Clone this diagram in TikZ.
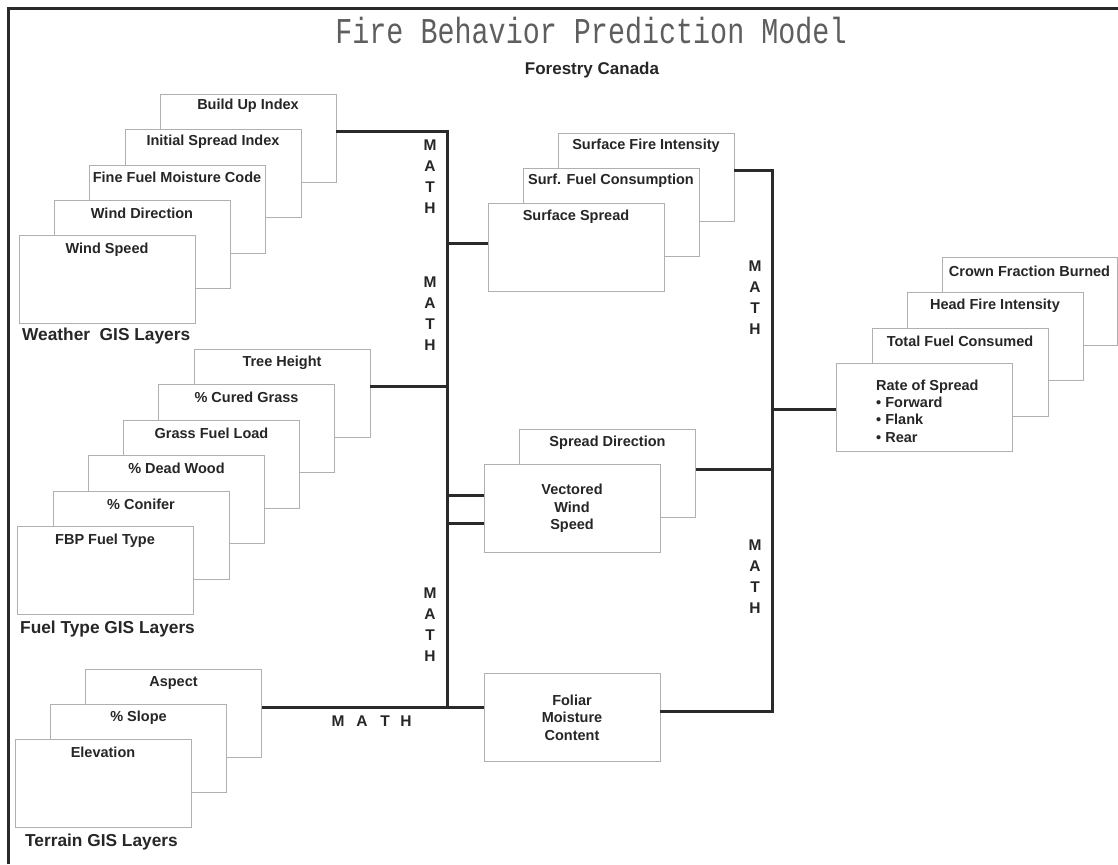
\documentclass[tikz,border=0pt]{standalone}
\usepackage{fontspec}
\usepackage{graphicx}
\setmainfont{Liberation Sans}
\newfontfamily\titlefont{Liberation Mono}
\definecolor{boxgray}{HTML}{B0B0B0}
\definecolor{txt}{HTML}{262626}
\definecolor{linec}{HTML}{2A2A2A}
\definecolor{titlec}{HTML}{5E5E5E}
\begin{document}
\begin{tikzpicture}[x=1pt,y=-1pt,
  box/.style={draw=boxgray, line width=0.9pt, fill=white, minimum width=176pt, minimum height=88pt, inner sep=0pt},
  lbl/.style={font=\bfseries\fontsize{14.5}{17.5}\selectfont, text=txt, inner sep=0pt},
  grp/.style={font=\bfseries\fontsize{17.3}{20}\selectfont, text=txt, anchor=west, inner sep=0pt},
  mathv/.style={font=\bfseries\fontsize{15.5}{21}\selectfont, text=txt, align=center, inner sep=0pt},
  mathh/.style={font=\bfseries\fontsize{15.5}{18}\selectfont, text=txt, inner sep=0pt},
  conn/.style={draw=linec, line width=3pt, line join=miter},
]
\useasboundingbox (0,0) rectangle (1118,864);
\clip (0,0) rectangle (1118,864);

% frame
\draw[draw=linec, line width=3pt, line join=miter] (8,864) -- (8,9) -- (1118,9);

% title
\node[text=titlec, inner sep=0pt] (title) at (591,31) {\scalebox{1}[1.28]{\titlefont\fontsize{28.4}{30}\selectfont Fire Behavior Prediction Model}};
\node[font=\bfseries\fontsize{17}{20}\selectfont, text=txt, inner sep=0pt] (sub) at (592,70) {Forestry Canada};

% weather stack (back to front)
\node[box] (bui) at (248,138) {};
\node[lbl] at ([yshift=-12pt]bui.north) {Build Up Index};
\node[box] (isi) at (213,173) {};
\node[lbl] at ([yshift=-13pt]isi.north) {Initial Spread Index};
\node[box] (ffmc) at (177,209) {};
\node[lbl] at ([yshift=-13pt]ffmc.north) {Fine Fuel Moisture Code};
\node[box] (wd) at (142,244) {};
\node[lbl] at ([yshift=-14pt]wd.north) {Wind Direction};
\node[box] (ws) at (107,279) {};
\node[lbl] at ([yshift=-15pt]ws.north) {Wind Speed};
\node[grp] (wlab) at (22,336) {Weather~~GIS Layers};

% fuel stack
\node[box] (tree) at (282,393) {};
\node[lbl] at ([yshift=-14pt]tree.north) {Tree Height};
\node[box] (cured) at (246.5,428) {};
\node[lbl] at ([yshift=-14pt]cured.north) {\% Cured Grass};
\node[box] (gfl) at (211.5,464) {};
\node[lbl] at ([yshift=-14pt]gfl.north) {Grass Fuel Load};
\node[box] (dead) at (176.5,499) {};
\node[lbl] at ([yshift=-14pt]dead.north) {\% Dead Wood};
\node[box] (conifer) at (141,535) {};
\node[lbl] at ([yshift=-14pt]conifer.north) {\% Conifer};
\node[box] (fbp) at (105,570) {};
\node[lbl] at ([yshift=-15pt]fbp.north) {FBP Fuel Type};
\node[grp] (flab) at (20,629) {Fuel Type GIS Layers};

% terrain stack
\node[box] (aspect) at (173.5,713) {};
\node[lbl] at ([yshift=-14pt]aspect.north) {Aspect};
\node[box] (slope) at (138.5,748) {};
\node[lbl] at ([yshift=-14pt]slope.north) {\% Slope};
\node[box] (elev) at (103,783) {};
\node[lbl] at ([yshift=-14pt]elev.north) {Elevation};
\node[grp] (tlab) at (25,842) {Terrain GIS Layers};

% middle: surface stack
\node[box] (sfi) at (646,177) {};
\node[lbl] at ([yshift=-13pt]sfi.north) {Surface Fire Intensity};
\node[box] (sfc) at (611,212) {};
\node[lbl] at ([yshift=-13pt]sfc.north) {Surf. Fuel Consumption};
\node[box] (ss) at (576,247) {};
\node[lbl] at ([yshift=-14pt]ss.north) {Surface Spread};

% middle: spread direction / vectored wind
\node[box] (sd) at (607.5,473) {};
\node[lbl] at ([yshift=-14pt]sd.north) {Spread Direction};
\node[box, align=center, font=\bfseries\fontsize{14.5}{17.5}\selectfont, text=txt] (vws) at (572,508.5) {Vectored\\Wind\\Speed};

% foliar
\node[box, align=center, font=\bfseries\fontsize{14.5}{17.5}\selectfont, text=txt] (fmc) at (572,717.5) {Foliar\\Moisture\\Content};

% right stack
\node[box, minimum width=175pt] (cfb) at (1029.5,301.5) {};
\node[lbl] at ([yshift=-14pt]cfb.north) {Crown Fraction Burned};
\node[box] (hfi) at (995,336) {};
\node[lbl] at ([yshift=-14pt]hfi.north) {Head Fire Intensity};
\node[box] (tfc) at (960,372) {};
\node[lbl] at ([yshift=-14pt]tfc.north) {Total Fuel Consumed};
\node[box] (ros) at (924.5,407.5) {};
\node[lbl, anchor=west, align=left, font=\bfseries\fontsize{14.5}{17.3}\selectfont] at (876,411) {Rate of Spread\\\textbullet\ Forward\\\textbullet\ Flank\\\textbullet\ Rear};

% helper coordinates
\coordinate (busLtop) at (447,131);
\coordinate (busLbot) at (447,707);
\coordinate (busRtop) at (772,170);
\coordinate (busRbot) at (772,711);
\coordinate (ySS) at (0,243);
\coordinate (yTree) at (0,386);
\coordinate (yV1) at (0,495);
\coordinate (yV2) at (0,523);
\coordinate (ySD) at (0,469);
\coordinate (yROS) at (0,409);

% connectors left
\draw[conn] (bui.east |- busLtop) -- (busLtop) -- (busLbot);
\draw[conn] (aspect.east |- busLbot) -- (fmc.west |- busLbot);
\draw[conn] (tree.east |- yTree) -- (busLtop |- yTree);
\draw[conn] (busLtop |- ySS) -- (ss.west |- ySS);
\draw[conn] (busLtop |- yV1) -- (vws.west |- yV1);
\draw[conn] (busLtop |- yV2) -- (vws.west |- yV2);

% connectors right
\draw[conn] (sfi.east |- busRtop) -- (busRtop) -- (busRbot) -- (fmc.east |- busRbot);
\draw[conn] (sd.east |- ySD) -- (busRtop |- ySD);
\draw[conn] (busRtop |- yROS) -- (ros.west |- yROS);

% MATH labels
\node[mathv] (m1) at (430,176.5) {M\\A\\T\\H};
\node[mathv] (m2) at (430,313.5) {M\\A\\T\\H};
\node[mathv] (m3) at (430,624.5) {M\\A\\T\\H};
\node[mathv] (m4) at (755,297.5) {M\\A\\T\\H};
\node[mathv] (m5) at (755,577) {M\\A\\T\\H};
\node[mathh] (h1) at (338,721) {M};
\node[mathh] (h2) at (362,721) {A};
\node[mathh] (h3) at (385,721) {T};
\node[mathh] (h4) at (406,721) {H};
\end{tikzpicture}
\end{document}
